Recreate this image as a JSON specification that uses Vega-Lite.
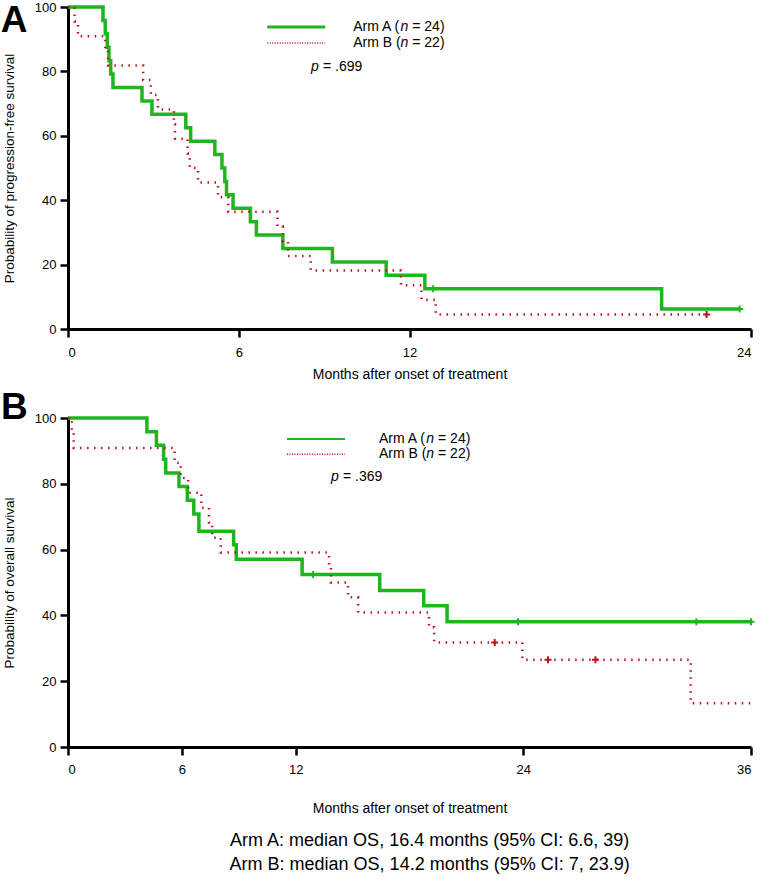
{
  "$schema": "https://vega.github.io/schema/vega-lite/v6.json",
  "background": "white",
  "padding": {"left": 0, "top": 0, "right": 5, "bottom": 0},
  "config": {
    "font": "Liberation Sans",
    "view": {"stroke": null},
    "axis": {
      "grid": false,
      "domainColor": "black",
      "domainWidth": 3,
      "tickColor": "black",
      "tickWidth": 2.5,
      "tickSize": 8,
      "labelFontSize": 13,
      "labelColor": "black",
      "titleFontSize": 13.5,
      "titleFontWeight": "normal",
      "titleColor": "black"
    },
    "text": {"fontSize": 14, "align": "left", "baseline": "middle", "color": "black"}
  },
  "datasets": {
    "pfs": [
      {"arm": "Arm A", "t": 0, "s": 100},
      {"arm": "Arm A", "t": 1.23, "s": 95.8},
      {"arm": "Arm A", "t": 1.31, "s": 91.7},
      {"arm": "Arm A", "t": 1.38, "s": 87.5},
      {"arm": "Arm A", "t": 1.44, "s": 83.3},
      {"arm": "Arm A", "t": 1.5, "s": 79.2},
      {"arm": "Arm A", "t": 1.58, "s": 75},
      {"arm": "Arm A", "t": 2.6, "s": 70.8},
      {"arm": "Arm A", "t": 2.95, "s": 66.7},
      {"arm": "Arm A", "t": 4.14, "s": 62.5},
      {"arm": "Arm A", "t": 4.31, "s": 58.3},
      {"arm": "Arm A", "t": 5.16, "s": 54.2},
      {"arm": "Arm A", "t": 5.41, "s": 50},
      {"arm": "Arm A", "t": 5.51, "s": 45.8},
      {"arm": "Arm A", "t": 5.57, "s": 41.7},
      {"arm": "Arm A", "t": 5.8, "s": 37.5},
      {"arm": "Arm A", "t": 6.41, "s": 33.3},
      {"arm": "Arm A", "t": 6.62, "s": 29.2},
      {"arm": "Arm A", "t": 7.55, "s": 25},
      {"arm": "Arm A", "t": 9.29, "s": 20.8},
      {"arm": "Arm A", "t": 11.18, "s": 16.7},
      {"arm": "Arm A", "t": 12.54, "s": 12.5},
      {"arm": "Arm A", "t": 20.86, "s": 6.25},
      {"arm": "Arm A", "t": 23.6, "s": 6.25},
      {"arm": "Arm B", "t": 0, "s": 100},
      {"arm": "Arm B", "t": 0.23, "s": 95.5},
      {"arm": "Arm B", "t": 0.35, "s": 90.9},
      {"arm": "Arm B", "t": 1.31, "s": 86.4},
      {"arm": "Arm B", "t": 1.41, "s": 81.8},
      {"arm": "Arm B", "t": 2.64, "s": 77.3},
      {"arm": "Arm B", "t": 2.91, "s": 72.7},
      {"arm": "Arm B", "t": 3.16, "s": 68.2},
      {"arm": "Arm B", "t": 3.72, "s": 63.6},
      {"arm": "Arm B", "t": 3.76, "s": 59.1},
      {"arm": "Arm B", "t": 4.2, "s": 54.5},
      {"arm": "Arm B", "t": 4.28, "s": 50},
      {"arm": "Arm B", "t": 4.57, "s": 45.5},
      {"arm": "Arm B", "t": 5.27, "s": 40.9},
      {"arm": "Arm B", "t": 5.63, "s": 36.4},
      {"arm": "Arm B", "t": 7.36, "s": 31.8},
      {"arm": "Arm B", "t": 7.55, "s": 27.3},
      {"arm": "Arm B", "t": 7.73, "s": 22.7},
      {"arm": "Arm B", "t": 8.53, "s": 18.2},
      {"arm": "Arm B", "t": 11.7, "s": 13.6},
      {"arm": "Arm B", "t": 12.42, "s": 9.1},
      {"arm": "Arm B", "t": 12.92, "s": 4.5},
      {"arm": "Arm B", "t": 22.44, "s": 4.5}
    ],
    "pfsCensor": [
      {"arm": "Arm A", "t": 12.83, "s": 12.5},
      {"arm": "Arm A", "t": 23.6, "s": 6.25},
      {"arm": "Arm B", "t": 22.44, "s": 4.5}
    ],
    "os": [
      {"arm": "Arm A", "t": 0, "s": 100},
      {"arm": "Arm A", "t": 4.16, "s": 95.8},
      {"arm": "Arm A", "t": 4.66, "s": 91.7},
      {"arm": "Arm A", "t": 5.04, "s": 87.5},
      {"arm": "Arm A", "t": 5.15, "s": 83.3},
      {"arm": "Arm A", "t": 5.85, "s": 79.2},
      {"arm": "Arm A", "t": 6.29, "s": 75},
      {"arm": "Arm A", "t": 6.63, "s": 70.8},
      {"arm": "Arm A", "t": 6.9, "s": 65.6},
      {"arm": "Arm A", "t": 8.73, "s": 61.5},
      {"arm": "Arm A", "t": 8.87, "s": 57.1},
      {"arm": "Arm A", "t": 12.34, "s": 52.4},
      {"arm": "Arm A", "t": 16.43, "s": 47.6},
      {"arm": "Arm A", "t": 18.75, "s": 42.9},
      {"arm": "Arm A", "t": 19.98, "s": 38.1},
      {"arm": "Arm A", "t": 36, "s": 38.1},
      {"arm": "Arm B", "t": 0, "s": 100},
      {"arm": "Arm B", "t": 0.2, "s": 95.5},
      {"arm": "Arm B", "t": 0.3, "s": 90.9},
      {"arm": "Arm B", "t": 5.62, "s": 86.4},
      {"arm": "Arm B", "t": 5.94, "s": 81.8},
      {"arm": "Arm B", "t": 6.33, "s": 77.3},
      {"arm": "Arm B", "t": 7.03, "s": 72.7},
      {"arm": "Arm B", "t": 7.43, "s": 68.2},
      {"arm": "Arm B", "t": 7.6, "s": 63.6},
      {"arm": "Arm B", "t": 8.05, "s": 59.1},
      {"arm": "Arm B", "t": 13.76, "s": 54.5},
      {"arm": "Arm B", "t": 13.86, "s": 50},
      {"arm": "Arm B", "t": 14.76, "s": 45.5},
      {"arm": "Arm B", "t": 15.29, "s": 40.9},
      {"arm": "Arm B", "t": 19.03, "s": 36.4},
      {"arm": "Arm B", "t": 19.3, "s": 31.8},
      {"arm": "Arm B", "t": 23.95, "s": 26.5},
      {"arm": "Arm B", "t": 32.82, "s": 13.3},
      {"arm": "Arm B", "t": 36, "s": 13.3}
    ],
    "osCensor": [
      {"arm": "Arm A", "t": 12.92, "s": 52.4},
      {"arm": "Arm A", "t": 23.72, "s": 38.1},
      {"arm": "Arm A", "t": 33.12, "s": 38.1},
      {"arm": "Arm A", "t": 36, "s": 38.1},
      {"arm": "Arm B", "t": 22.49, "s": 31.8},
      {"arm": "Arm B", "t": 25.3, "s": 26.5},
      {"arm": "Arm B", "t": 27.8, "s": 26.5}
    ]
  },
  "title": {
    "text": ["Arm A: median OS, 16.4 months (95% CI: 6.6, 39)", "Arm B: median OS, 14.2 months (95% CI: 7, 23.9)"],
    "orient": "bottom",
    "anchor": "middle",
    "fontSize": 18,
    "fontWeight": "normal",
    "lineHeight": 24,
    "offset": 17,
    "dx": 50,
    "color": "black"
  },
  "spacing": 8,
  "resolve": {"scale": {"strokeDash": "independent", "strokeWidth": "independent"}},
  "vconcat": [
    {
      "width": 683,
      "height": 322,
      "layer": [
        {
          "data": {"name": "pfs"},
          "mark": {"type": "line", "interpolate": "step-after"},
          "encoding": {
            "x": {"field": "t", "type": "quantitative", "scale": {"domain": [0, 24], "nice": false},
                  "axis": {"values": [0, 6, 12, 24], "title": "Months after onset of treatment", "titleFontSize": 14, "labelPadding": 9, "titlePadding": 8}},
            "y": {"field": "s", "type": "quantitative", "scale": {"domain": [0, 100], "nice": false},
                  "axis": {"values": [0, 20, 40, 60, 80, 100], "title": "Probability of progression-free survival", "labelPadding": 4, "titlePadding": 18}},
            "color": {"field": "arm", "type": "nominal", "scale": {"domain": ["Arm A", "Arm B"], "range": ["#1fb51f", "#c0141c"]}, "legend": null},
            "strokeDash": {"field": "arm", "type": "nominal", "scale": {"domain": ["Arm A", "Arm B"], "range": [[1, 0], [1.5, 5.5]]}, "legend": null},
            "strokeWidth": {"field": "arm", "type": "nominal", "scale": {"domain": ["Arm A", "Arm B"], "range": [3.5, 2.5]}, "legend": null}
          }
        },
        {
          "data": {"name": "pfsCensor"},
          "mark": {"type": "point", "shape": "M0,-1V1M-1,0H1", "size": 49, "strokeWidth": 2, "filled": false, "opacity": 1},
          "encoding": {
            "x": {"field": "t", "type": "quantitative"},
            "y": {"field": "s", "type": "quantitative"},
            "color": {"field": "arm", "type": "nominal", "legend": null}
          }
        },
        {
          "data": {"values": [{"label": "A"}]},
          "mark": {"type": "text", "fontSize": 37, "fontWeight": "bold", "baseline": "alphabetic"},
          "encoding": {"x": {"datum": -2.36}, "y": {"datum": 92.3}, "text": {"field": "label"}}
        },
        {
          "data": {"values": [{}]},
          "mark": {"type": "rule", "color": "#1fb51f", "strokeWidth": 3},
          "encoding": {"x": {"datum": 7.0}, "x2": {"datum": 9.04}, "y": {"datum": 93.8}}
        },
        {
          "data": {"values": [{}]},
          "mark": {"type": "rule", "color": "#c0141c", "strokeWidth": 1.5, "strokeDash": [1, 1.5]},
          "encoding": {"x": {"datum": 7.0}, "x2": {"datum": 9.04}, "y": {"datum": 88.8}}
        },
        {
          "data": {"values": [{"label": "Arm A ("}]},
          "mark": {"type": "text"},
          "encoding": {"x": {"datum": 10.02}, "y": {"datum": 93.8}, "text": {"field": "label"}}
        },
        {
          "data": {"values": [{"label": "n"}]},
          "mark": {"type": "text", "fontStyle": "italic", "dx": 47.4},
          "encoding": {"x": {"datum": 10.02}, "y": {"datum": 93.8}, "text": {"field": "label"}}
        },
        {
          "data": {"values": [{"label": "= 24)"}]},
          "mark": {"type": "text", "dx": 59.1},
          "encoding": {"x": {"datum": 10.02}, "y": {"datum": 93.8}, "text": {"field": "label"}}
        },
        {
          "data": {"values": [{"label": "Arm B ("}]},
          "mark": {"type": "text"},
          "encoding": {"x": {"datum": 10.02}, "y": {"datum": 88.8}, "text": {"field": "label"}}
        },
        {
          "data": {"values": [{"label": "n"}]},
          "mark": {"type": "text", "fontStyle": "italic", "dx": 47.4},
          "encoding": {"x": {"datum": 10.02}, "y": {"datum": 88.8}, "text": {"field": "label"}}
        },
        {
          "data": {"values": [{"label": "= 22)"}]},
          "mark": {"type": "text", "dx": 59.1},
          "encoding": {"x": {"datum": 10.02}, "y": {"datum": 88.8}, "text": {"field": "label"}}
        },
        {
          "data": {"values": [{"label": "p"}]},
          "mark": {"type": "text", "fontStyle": "italic"},
          "encoding": {"x": {"datum": 8.54}, "y": {"datum": 81.4}, "text": {"field": "label"}}
        },
        {
          "data": {"values": [{"label": "= .699"}]},
          "mark": {"type": "text", "dx": 12},
          "encoding": {"x": {"datum": 8.54}, "y": {"datum": 81.4}, "text": {"field": "label"}}
        }
      ]
    },
    {
      "width": 683,
      "height": 329,
      "layer": [
        {
          "data": {"name": "os"},
          "mark": {"type": "line", "interpolate": "step-after"},
          "encoding": {
            "x": {"field": "t", "type": "quantitative", "scale": {"domain": [0, 36], "nice": false},
                  "axis": {"values": [0, 6, 12, 24, 36], "title": "Months after onset of treatment", "titleFontSize": 14, "labelPadding": 8, "titlePadding": 25}},
            "y": {"field": "s", "type": "quantitative", "scale": {"domain": [0, 100], "nice": false},
                  "axis": {"values": [0, 20, 40, 60, 80, 100], "title": "Probability of overall survival", "labelPadding": 4, "titlePadding": 18}},
            "color": {"field": "arm", "type": "nominal", "scale": {"domain": ["Arm A", "Arm B"], "range": ["#1fb51f", "#c0141c"]}, "legend": null},
            "strokeDash": {"field": "arm", "type": "nominal", "scale": {"domain": ["Arm A", "Arm B"], "range": [[1, 0], [1.5, 5.5]]}, "legend": null},
            "strokeWidth": {"field": "arm", "type": "nominal", "scale": {"domain": ["Arm A", "Arm B"], "range": [3.5, 2.5]}, "legend": null}
          }
        },
        {
          "data": {"name": "osCensor"},
          "mark": {"type": "point", "shape": "M0,-1V1M-1,0H1", "size": 49, "strokeWidth": 2, "filled": false, "opacity": 1},
          "encoding": {
            "x": {"field": "t", "type": "quantitative"},
            "y": {"field": "s", "type": "quantitative"},
            "color": {"field": "arm", "type": "nominal", "legend": null}
          }
        },
        {
          "data": {"values": [{"label": "B"}]},
          "mark": {"type": "text", "fontSize": 37, "fontWeight": "bold", "baseline": "alphabetic"},
          "encoding": {"x": {"datum": -3.53}, "y": {"datum": 99.6}, "text": {"field": "label"}}
        },
        {
          "data": {"values": [{}]},
          "mark": {"type": "rule", "color": "#1fb51f", "strokeWidth": 2},
          "encoding": {"x": {"datum": 11.54}, "x2": {"datum": 14.6}, "y": {"datum": 93.6}}
        },
        {
          "data": {"values": [{}]},
          "mark": {"type": "rule", "color": "#c0141c", "strokeWidth": 1.5, "strokeDash": [1, 1.5]},
          "encoding": {"x": {"datum": 11.54}, "x2": {"datum": 14.6}, "y": {"datum": 88.95}}
        },
        {
          "data": {"values": [{"label": "Arm A ("}]},
          "mark": {"type": "text"},
          "encoding": {"x": {"datum": 16.39}, "y": {"datum": 93.6}, "text": {"field": "label"}}
        },
        {
          "data": {"values": [{"label": "n"}]},
          "mark": {"type": "text", "fontStyle": "italic", "dx": 47.4},
          "encoding": {"x": {"datum": 16.39}, "y": {"datum": 93.6}, "text": {"field": "label"}}
        },
        {
          "data": {"values": [{"label": "= 24)"}]},
          "mark": {"type": "text", "dx": 59.1},
          "encoding": {"x": {"datum": 16.39}, "y": {"datum": 93.6}, "text": {"field": "label"}}
        },
        {
          "data": {"values": [{"label": "Arm B ("}]},
          "mark": {"type": "text"},
          "encoding": {"x": {"datum": 16.39}, "y": {"datum": 88.95}, "text": {"field": "label"}}
        },
        {
          "data": {"values": [{"label": "n"}]},
          "mark": {"type": "text", "fontStyle": "italic", "dx": 47.4},
          "encoding": {"x": {"datum": 16.39}, "y": {"datum": 88.95}, "text": {"field": "label"}}
        },
        {
          "data": {"values": [{"label": "= 22)"}]},
          "mark": {"type": "text", "dx": 59.1},
          "encoding": {"x": {"datum": 16.39}, "y": {"datum": 88.95}, "text": {"field": "label"}}
        },
        {
          "data": {"values": [{"label": "p"}]},
          "mark": {"type": "text", "fontStyle": "italic"},
          "encoding": {"x": {"datum": 13.86}, "y": {"datum": 82}, "text": {"field": "label"}}
        },
        {
          "data": {"values": [{"label": "= .369"}]},
          "mark": {"type": "text", "dx": 12},
          "encoding": {"x": {"datum": 13.86}, "y": {"datum": 82}, "text": {"field": "label"}}
        }
      ]
    }
  ]
}
